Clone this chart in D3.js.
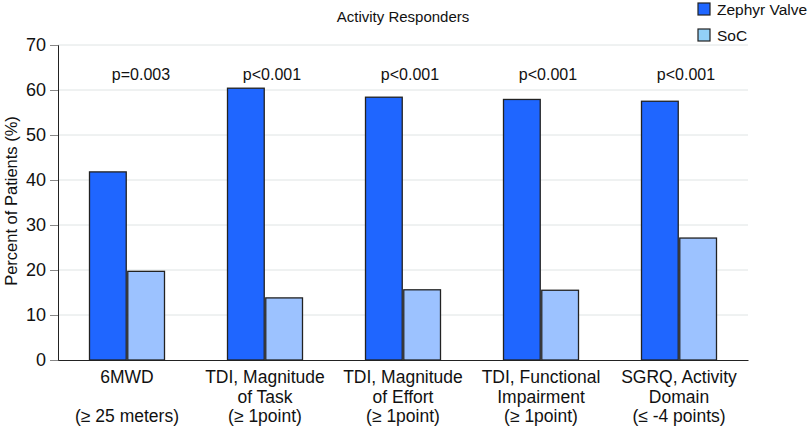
<!DOCTYPE html>
<html>
<head>
<meta charset="utf-8">
<script src="https://cdn.jsdelivr.net/npm/d3@7"></script>
<style>
  body { margin: 0; background: #fff; }
  svg { font-family: "Liberation Sans", Arial, Helvetica, sans-serif; }
</style>
</head>
<body>
<svg id="chart" width="810" height="429"></svg>
<script>
// categories (label lines) and series
var categories = ["6MWD", "TDI, Magnitude of Task", "TDI, Magnitude of Effort", "TDI, Functional Impairment", "SGRQ, Activity Domain"];
var catLines = [
  ["6MWD", "", "(\u2265 25 meters)"],
  ["TDI, Magnitude", "of Task", "(\u2265 1point)"],
  ["TDI, Magnitude", "of Effort", "(\u2265 1point)"],
  ["TDI, Functional", "Impairment", "(\u2265 1point)"],
  ["SGRQ, Activity", "Domain", "(\u2264 -4 points)"]
];
var series = ["Zephyr Valve", "SoC"];
var zephyr = [41.8, 60.4, 58.4, 57.9, 57.5];
var soc = [19.7, 13.8, 15.6, 15.5, 27.1];
var pValues = ["p=0.003", "p<0.001", "p<0.001", "p<0.001", "p<0.001"];
var yTicks = [0, 10, 20, 30, 40, 50, 60, 70];

var colors = { "Zephyr Valve": "#1f66ff", "SoC": "#9cc2ff" };
var legendColors = { "Zephyr Valve": "#1f66ff", "SoC": "#92d0f7" };

var svg = d3.select("#chart");
var mLeft = 58, mRight = 748, mTop = 45, mBottom = 360;

var x = d3.scaleBand().domain(categories).range([mLeft, mRight]).padding(0);
var y = d3.scaleLinear().domain([0, 70]).range([mBottom, mTop]);
var groupW = 75;
var x1 = d3.scaleBand().domain(series).range([0, groupW]).paddingInner(0.04);

// gridlines
svg.append("g").selectAll("line")
  .data(yTicks.filter(function(d){ return d > 0; }))
  .enter().append("line")
  .attr("x1", mLeft).attr("x2", mRight)
  .attr("y1", function(d){ return y(d); })
  .attr("y2", function(d){ return y(d); })
  .attr("stroke", "#dfe4e4").attr("stroke-width", 1);

// bars
var rows = categories.map(function(c, i){
  return { cat: c, vals: [{ s: "Zephyr Valve", v: zephyr[i] }, { s: "SoC", v: soc[i] }] };
});
var groups = svg.append("g").selectAll("g")
  .data(rows).enter().append("g")
  .attr("transform", function(d){ return "translate(" + (x(d.cat) + (x.bandwidth() - groupW) / 2) + ",0)"; });
groups.selectAll("rect")
  .data(function(d){ return d.vals; })
  .enter().append("rect")
  .attr("x", function(d){ return x1(d.s); })
  .attr("width", x1.bandwidth())
  .attr("y", function(d){ return y(d.v); })
  .attr("height", function(d){ return y(0) - y(d.v); })
  .attr("fill", function(d){ return colors[d.s]; })
  .attr("stroke", "#222").attr("stroke-width", 1.3);

// p values (first one sits a bit further right in the original)
svg.append("g").selectAll("text")
  .data(pValues).enter().append("text")
  .attr("x", function(d, i){ return x(categories[i]) + x.bandwidth() / 2 + (i === 0 ? 14 : 7); })
  .attr("y", 80)
  .attr("text-anchor", "middle")
  .attr("font-size", 16)
  .attr("fill", "#111")
  .text(function(d){ return d; });

// y axis
var yAxis = d3.axisLeft(y).tickValues(yTicks).tickSize(8).tickPadding(4);
var ya = svg.append("g").attr("transform", "translate(" + mLeft + ",0)").call(yAxis);
ya.selectAll("text").attr("font-size", 18).attr("fill", "#111").attr("font-family", "Liberation Sans, Arial, sans-serif");
ya.selectAll("line, path").attr("stroke", "#222");
ya.selectAll(".tick line").attr("stroke", "#888");

// x axis line
var xAxis = d3.axisBottom(x).tickSize(0).tickFormat("");
var xa = svg.append("g").attr("transform", "translate(0," + mBottom + ")").call(xAxis);
xa.select("path").attr("stroke", "#222");

// category labels
var lab = svg.append("g").selectAll("text")
  .data(catLines).enter().append("text")
  .attr("text-anchor", "middle")
  .attr("font-size", 17.5)
  .attr("fill", "#111");
lab.each(function(lines, i){
  var t = d3.select(this);
  lines.forEach(function(l, j){
    t.append("tspan")
      .attr("x", x(categories[i]) + x.bandwidth() / 2)
      .attr("y", 383 + j * 19.5)
      .text(l);
  });
});

// y label
svg.append("text")
  .attr("transform", "translate(17," + 201 + ") rotate(-90)")
  .attr("text-anchor", "middle")
  .attr("font-size", 16.5)
  .attr("fill", "#111")
  .text("Percent of Patients (%)");

// title
svg.append("text")
  .attr("x", 403).attr("y", 22)
  .attr("text-anchor", "middle")
  .attr("font-size", 15)
  .attr("fill", "#111")
  .text("Activity Responders");

// legend
var leg = svg.append("g").selectAll("g")
  .data(series).enter().append("g")
  .attr("transform", function(d, i){ return "translate(698," + (3 + i * 26) + ")"; });
leg.append("rect")
  .attr("width", 12).attr("height", 12)
  .attr("fill", function(d){ return legendColors[d]; })
  .attr("stroke", "#222").attr("stroke-width", 1.2);
leg.append("text")
  .attr("x", 19).attr("y", 12)
  .attr("font-size", 15.5)
  .attr("fill", "#111")
  .text(function(d){ return d; });
</script>
</body>
</html>
